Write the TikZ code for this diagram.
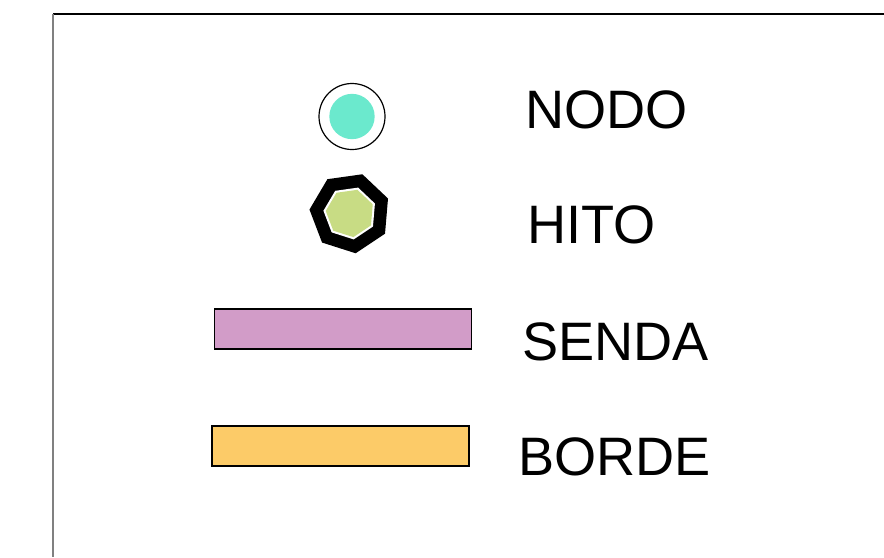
\documentclass[tikz,border=0pt]{standalone}
\usepackage{fontspec}
\setmainfont{Liberation Sans}
\usepackage{tikz}
\usetikzlibrary{positioning,shapes.geometric}
\definecolor{nodoc}{HTML}{6BE9CD}
\definecolor{hitoc}{HTML}{C8DC84}
\definecolor{sendac}{HTML}{D29CC8}
\definecolor{bordec}{HTML}{FCCB68}

\begin{document}
\begin{tikzpicture}[
  x=0.75pt, y=-0.75pt,
  lbl/.style={anchor=base west, inner sep=0pt, font=\fontsize{40.6}{50}\selectfont},
  bar/.style={rectangle, draw=black, line width=1.2pt, minimum width=193pt, minimum height=30pt, inner sep=0pt},
  hept/.style={regular polygon, regular polygon sides=7, shape border rotate=188, inner sep=0pt},
]
\useasboundingbox (0,0) rectangle (884,557);

% --- frame ---
\coordinate (ftl) at (53,14);
\coordinate (ftr) at (884,14);
\coordinate (fbl) at (53,557);
\draw[black, line width=1pt] (ftl) -- (ftr);
\draw[gray, line width=1.3pt] (ftl) -- (fbl);

% --- symbols ---
\node[circle, draw=black, line width=0.9pt, fill=white, minimum size=49.5pt, inner sep=0pt] (nodo) at (352,116.5) {};
\node[circle, fill=nodoc, minimum size=34pt, inner sep=0pt] at (nodo.center) {};

\node[hept, fill=black, minimum size=61pt] (hito) at (350,213) {};
\node[hept, fill=white, minimum size=40pt] (hitow) at (hito.center) {};
\node[hept, fill=hitoc, minimum size=36.5pt] (hitoin) at (hito.center) {};

\node[bar, fill=sendac] (senda) at (343,329) {};
\node[bar, fill=bordec] (borde) at (340.5,446) {};

% --- labels ---
\node[lbl] (lnodo) at (525,128) {NODO};
\node[lbl] (lhito) at (527,243) {HITO};
\node[lbl] (lsenda) at (522,360) {SENDA};
\node[lbl] (lborde) at (518,475) {BORDE};
\end{tikzpicture}
\end{document}
